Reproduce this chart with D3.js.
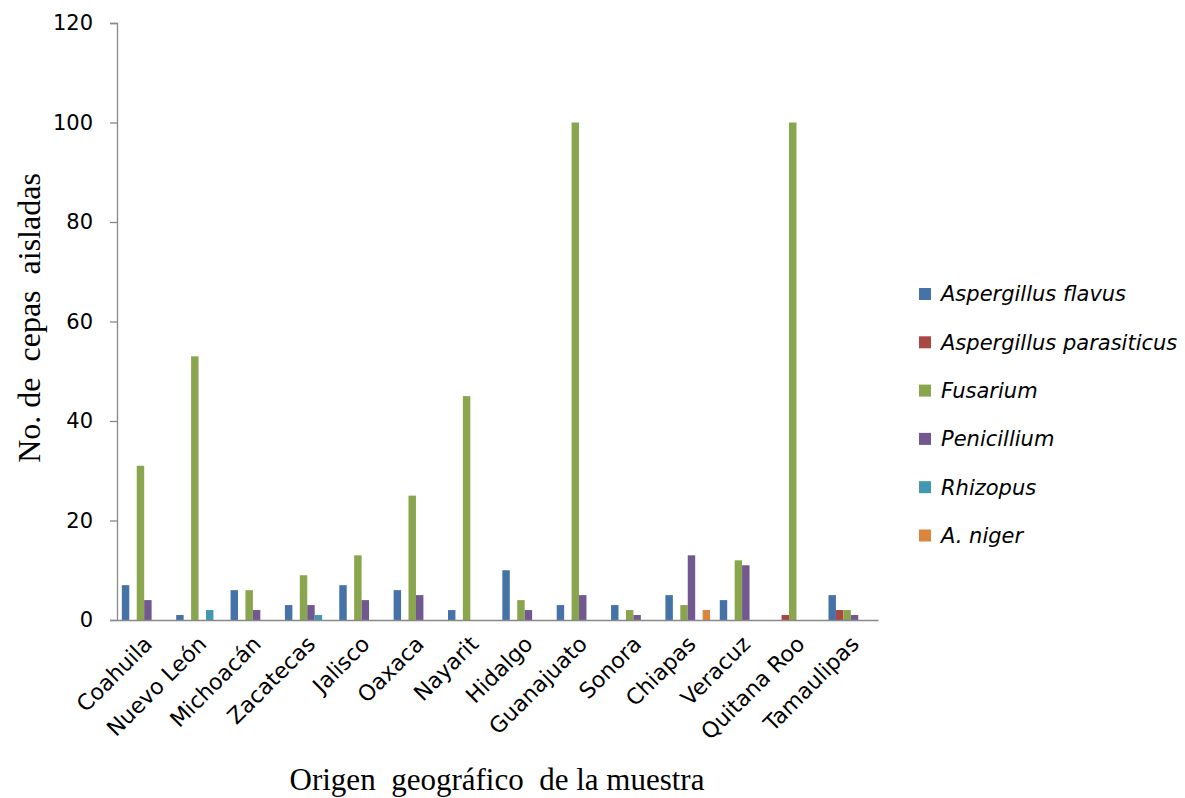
<!DOCTYPE html>
<html>
<head>
<meta charset="utf-8">
<script src="https://cdn.jsdelivr.net/npm/d3@7"></script>
<style>
  html, body { margin: 0; padding: 0; background: #fff; }
  svg { display: block; }
</style>
</head>
<body>
<svg id="chart" width="1185" height="798"></svg>
<script>
// Sample origin (Mexican states)
const states = ["Coahuila", "Nuevo León", "Michoacán", "Zacatecas", "Jalisco", "Oaxaca", "Nayarit",
  "Hidalgo", "Guanajuato", "Sonora", "Chiapas", "Veracuz", "Quitana Roo", "Tamaulipas"];

// Fungal genera / species
const species = ["Aspergillus flavus", "Aspergillus parasiticus", "Fusarium", "Penicillium", "Rhizopus", "A. niger"];
const colors = ["#4572A7", "#AA4643", "#89A54E", "#71588F", "#4198AF", "#DB843D"];

// Isolated strains per state, one array per species (same order as states)
const aspergillusFlavus      = [7, 1, 6, 3, 7, 6, 2, 10, 3, 3, 5, 4, 0, 5];
const aspergillusParasiticus = [0, 0, 0, 0, 0, 0, 0, 0, 0, 0, 0, 0, 1, 2];
const fusarium               = [31, 53, 6, 9, 13, 25, 45, 4, 100, 2, 3, 12, 100, 2];
const penicillium            = [4, 0, 2, 3, 4, 5, 0, 2, 5, 1, 13, 11, 0, 1];
const rhizopus               = [0, 2, 0, 1, 0, 0, 0, 0, 0, 0, 0, 0, 0, 0];
const aNiger                 = [0, 0, 0, 0, 0, 0, 0, 0, 0, 0, 2, 0, 0, 0];
const seriesValues = [aspergillusFlavus, aspergillusParasiticus, fusarium, penicillium, rhizopus, aNiger];

const yTicks = [0, 20, 40, 60, 80, 100, 120];

const sans = "'DejaVu Sans', sans-serif";
const serif = "'Liberation Serif', 'Times New Roman', serif";

const svg = d3.select("#chart");
const plot = { left: 117, right: 878, top: 23, bottom: 620 };

const x0 = d3.scaleBand().domain(states).range([plot.left, plot.right]).padding(0);
const x1 = d3.scaleBand().domain(species).range([0, x0.bandwidth()]).paddingInner(0).paddingOuter(0.65);
const y = d3.scaleLinear().domain([0, 120]).range([plot.bottom, plot.top]);
const color = d3.scaleOrdinal().domain(species).range(colors);

// Bars
const rows = [];
states.forEach((s, i) => species.forEach((sp, j) => rows.push({ state: s, sp, v: seriesValues[j][i] })));
svg.append("g").selectAll("rect")
  .data(rows.filter(d => d.v > 0))
  .join("rect")
  .attr("x", d => x0(d.state) + x1(d.sp))
  .attr("y", d => y(d.v))
  .attr("width", x1.bandwidth())
  .attr("height", d => y(0) - y(d.v))
  .attr("fill", d => color(d.sp));

// Y axis
const yAxis = svg.append("g")
  .attr("transform", `translate(${plot.left},0)`)
  .call(d3.axisLeft(y).tickValues(yTicks).tickSize(7).tickPadding(17));
yAxis.select(".domain").attr("stroke", "#898989").attr("stroke-width", 1.3);
yAxis.selectAll(".tick line").attr("stroke", "#898989").attr("stroke-width", 1.3);
yAxis.selectAll(".tick text")
  .attr("font-family", sans).attr("font-size", 21).attr("fill", "#000");

// X axis
const xAxis = svg.append("g")
  .attr("transform", `translate(0,${plot.bottom})`)
  .call(d3.axisBottom(x0).tickSize(0).tickPadding(0));
xAxis.select(".domain").attr("stroke", "#898989").attr("stroke-width", 1.3);
xAxis.selectAll(".tick text")
  .attr("font-family", sans).attr("font-size", 22).attr("fill", "#000")
  .attr("text-anchor", "end")
  .attr("dy", "0.35em")
  .attr("transform", "translate(4,20) rotate(-45)");

// Axis titles
svg.append("text")
  .attr("transform", `translate(40,318) rotate(-90)`)
  .attr("text-anchor", "middle")
  .attr("font-family", serif)
  .attr("font-size", 32)
  .attr("xml:space", "preserve")
  .text("No. de  cepas  aisladas");

svg.append("text")
  .attr("x", 497).attr("y", 790)
  .attr("text-anchor", "middle")
  .attr("font-family", serif)
  .attr("font-size", 31)
  .attr("xml:space", "preserve")
  .text("Origen  geográfico  de la muestra");

// Legend
const legend = svg.append("g").attr("transform", "translate(919,294)");
const item = legend.selectAll("g").data(species).join("g")
  .attr("transform", (d, i) => `translate(0,${i * 48.3})`);
item.append("rect").attr("x", 0).attr("y", -6).attr("width", 12).attr("height", 12)
  .attr("fill", d => color(d));
item.append("text").attr("x", 22).attr("y", 0).attr("dy", "0.35em")
  .attr("font-family", sans).attr("font-style", "italic")
  .attr("font-size", 21).attr("fill", "#000")
  .text(d => d);
</script>
</body>
</html>
